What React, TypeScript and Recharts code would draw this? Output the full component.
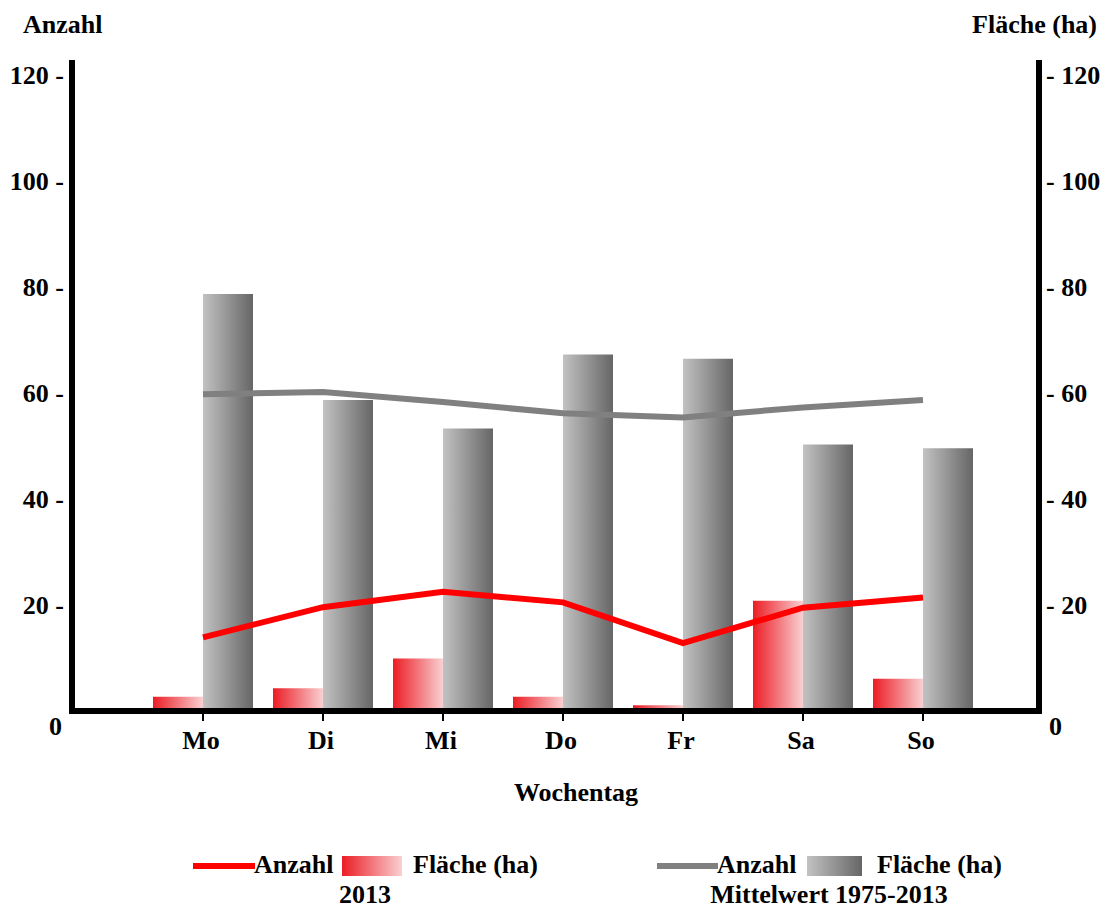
import React from 'react';
import { ComposedChart, Bar, Line, XAxis, YAxis, Customized } from 'recharts';

const days = ['Mo', 'Di', 'Mi', 'Do', 'Fr', 'Sa', 'So'];
const anzahl2013 = [13.9, 19.6, 22.5, 20.5, 12.8, 19.5, 21.4];
const flaeche2013 = [2.7, 4.3, 9.9, 2.7, 1.1, 20.8, 6.1];
const anzahlMittel = [59.8, 60.2, 58.3, 56.2, 55.4, 57.3, 58.7];
const flaecheMittel = [78.7, 58.7, 53.3, 67.3, 66.5, 50.3, 49.6];
const yTicks = [0, 20, 40, 60, 80, 100, 120];

const data = days.map((d, i) => ({
  day: d,
  a13: anzahl2013[i],
  f13: flaeche2013[i],
  am: anzahlMittel[i],
  fm: flaecheMittel[i],
}));

const FONT = '"Liberation Serif", "Times New Roman", serif';
const txt = { fontFamily: FONT, fontWeight: 'bold', fontSize: 26, fill: '#000' } as const;

const LeftTick = (props: any) => {
  const { y, payload } = props;
  if (payload.value === 0) {
    return <text x={62} y={735} textAnchor="end" {...txt}>0</text>;
  }
  return <text x={64} y={y + 9} textAnchor="end" {...txt}>{`${payload.value} -`}</text>;
};

const RightTick = (props: any) => {
  const { y, payload } = props;
  if (payload.value === 0) {
    return <text x={1049} y={735} textAnchor="start" {...txt}>0</text>;
  }
  return <text x={1046} y={y + 9} textAnchor="start" {...txt}>{`- ${payload.value}`}</text>;
};

const XTick = (props: any) => {
  const { x, payload } = props;
  return <text x={x - 2} y={749} textAnchor="middle" {...txt}>{payload.value}</text>;
};

const Extras = () => (
  <g>
    <text x={23} y={33} textAnchor="start" {...txt}>Anzahl</text>
    <text x={1097} y={33} textAnchor="end" {...txt}>Fläche (ha)</text>
    <text x={576} y={801} textAnchor="middle" {...txt}>Wochentag</text>
    {/* legend 2013 */}
    <line x1={193} y1={866} x2={255} y2={866} stroke="#ff0000" strokeWidth={6} />
    <text x={254} y={873} {...txt}>Anzahl</text>
    <rect x={342} y={856} width={60} height={20} fill="url(#gradRed)" />
    <text x={413} y={873} {...txt}>Fläche (ha)</text>
    <text x={365} y={903} textAnchor="middle" {...txt}>2013</text>
    {/* legend Mittelwert */}
    <line x1={657} y1={866} x2={718} y2={866} stroke="#808080" strokeWidth={6} />
    <text x={717} y={873} {...txt}>Anzahl</text>
    <rect x={807} y={856} width={55} height={20} fill="url(#gradGray)" />
    <text x={877} y={873} {...txt}>Fläche (ha)</text>
    <text x={829} y={903} textAnchor="middle" {...txt}>Mittelwert 1975-2013</text>
  </g>
);

export default function App() {
  return (
    <div style={{ position: 'absolute', left: 0, top: 0, background: '#fff' }}>
      <ComposedChart
        width={1101}
        height={909}
        data={data}
        margin={{ top: 63, right: 0, bottom: 158, left: 0 }}
        barGap={0}
      >
        <defs>
          <linearGradient id="gradRed" x1="0" y1="0" x2="1" y2="0">
            <stop offset="0%" stopColor="#ec1c24" />
            <stop offset="100%" stopColor="#f9d0d2" />
          </linearGradient>
          <linearGradient id="gradGray" x1="0" y1="0" x2="1" y2="0">
            <stop offset="0%" stopColor="#c2c2c2" />
            <stop offset="100%" stopColor="#666666" />
          </linearGradient>
        </defs>
        <XAxis
          dataKey="day"
          height={40}
          padding={{ left: 71, right: 56 }}
          axisLine={{ stroke: '#000', strokeWidth: 6, strokeLinecap: 'square' }}
          tickLine={{ stroke: '#000', strokeWidth: 2 }}
          tickSize={10}
          tick={<XTick />}
          interval={0}
        />
        <YAxis
          yAxisId="left"
          orientation="left"
          width={72}
          domain={[0, 122.3]}
          ticks={yTicks}
          allowDataOverflow
          axisLine={{ stroke: '#000', strokeWidth: 6, strokeLinecap: 'square' }}
          tickLine={false}
          tick={<LeftTick />}
          interval={0}
        />
        <YAxis
          yAxisId="right"
          orientation="right"
          width={62}
          domain={[0, 122.3]}
          ticks={yTicks}
          allowDataOverflow
          axisLine={{ stroke: '#000', strokeWidth: 6, strokeLinecap: 'square' }}
          tickLine={false}
          tick={<RightTick />}
          interval={0}
        />
        <Bar yAxisId="right" dataKey="f13" barSize={50} fill="url(#gradRed)" isAnimationActive={false} />
        <Bar yAxisId="right" dataKey="fm" barSize={50} fill="url(#gradGray)" isAnimationActive={false} />
        <Line yAxisId="left" dataKey="am" stroke="#808080" strokeWidth={6} dot={false} activeDot={false} isAnimationActive={false} />
        <Line yAxisId="left" dataKey="a13" stroke="#ff0000" strokeWidth={6} dot={false} activeDot={false} isAnimationActive={false} />
        <Customized component={<Extras />} />
      </ComposedChart>
    </div>
  );
}
